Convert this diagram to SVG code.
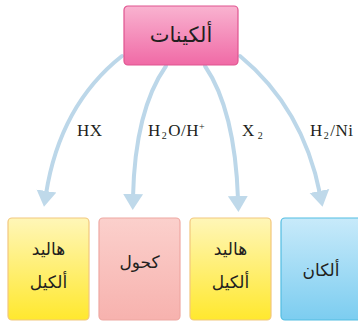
<svg xmlns="http://www.w3.org/2000/svg" width="358" height="326" viewBox="0 0 358 326">
  <defs>
    <linearGradient id="gPink" x1="0" y1="0" x2="0" y2="1">
      <stop offset="0" stop-color="#f9b3d0"/>
      <stop offset="1" stop-color="#f06aa6"/>
    </linearGradient>
    <linearGradient id="gYellow" x1="0" y1="0" x2="0" y2="1">
      <stop offset="0" stop-color="#fff6b8"/>
      <stop offset="1" stop-color="#ffe82e"/>
    </linearGradient>
    <linearGradient id="gRose" x1="0" y1="0" x2="0" y2="1">
      <stop offset="0" stop-color="#fbd0cc"/>
      <stop offset="1" stop-color="#f7b2ae"/>
    </linearGradient>
    <linearGradient id="gBlue" x1="0" y1="0" x2="0" y2="1">
      <stop offset="0" stop-color="#c8eafa"/>
      <stop offset="1" stop-color="#7ccdf0"/>
    </linearGradient>
    <marker id="head" markerUnits="userSpaceOnUse" markerWidth="22" markerHeight="22" refX="3" refY="11" orient="auto">
      <path d="M0 1 L16 11 L0 21 Z" fill="#bfd9ea"/>
    </marker>
    <style>
      .ar { font-family: "Noto Sans", "DejaVu Sans", sans-serif; fill: #231f20; text-anchor: middle; direction: rtl; }
      .lbl { font-family: "Liberation Serif", "Times New Roman", serif; font-size: 17px; fill: #231f20; letter-spacing: 0.5px; }
      .sub { font-size: 10px; }
      .conn { fill: none; stroke: #bcd7e9; stroke-width: 4; stroke-linecap: round; marker-end: url(#head); }
    </style>
  </defs>

  <g id="connectors">
    <path class="conn" d="M122 56 Q60 105 46 194"/>
    <path class="conn" d="M166 66 Q135 110 133 197"/>
    <path class="conn" d="M205 66 Q235 110 238 199"/>
    <path class="conn" d="M240 56 Q303 108 320 194"/>
  </g>

  <g id="labels">
    <text class="lbl" x="77" y="136">HX</text>
    <text class="lbl" x="148" y="136">H<tspan class="sub" dx="1" dy="3">2</tspan><tspan dx="1" dy="-3">O/H</tspan><tspan class="sub" dy="-6">+</tspan></text>
    <text class="lbl" x="242" y="136">X<tspan class="sub" dx="3" dy="3">2</tspan></text>
    <text class="lbl" x="310" y="136">H<tspan class="sub" dx="1" dy="3">2</tspan><tspan dx="1" dy="-3">/Ni</tspan></text>
  </g>

  <g id="alkenes">
    <rect x="124" y="6" width="114" height="59" rx="4" fill="url(#gPink)" stroke="#e0548f" stroke-width="1.2"/>
    <text class="ar" x="181" y="42" font-size="21">ألكينات</text>
  </g>

  <g id="alkyl-halide-1">
    <rect x="8" y="218" width="81" height="102" rx="4" fill="url(#gYellow)" stroke="#f2c77e" stroke-width="1.2"/>
    <text class="ar" x="48.5" y="255" font-size="17">هاليد</text>
    <text class="ar" x="48.5" y="288" font-size="17">ألكيل</text>
  </g>

  <g id="alcohol">
    <rect x="99" y="218" width="81" height="102" rx="4" fill="url(#gRose)" stroke="#eea8a2" stroke-width="1.2"/>
    <text class="ar" x="139.5" y="268" font-size="17">كحول</text>
  </g>

  <g id="alkyl-halide-2">
    <rect x="190" y="218" width="81" height="102" rx="4" fill="url(#gYellow)" stroke="#f2c77e" stroke-width="1.2"/>
    <text class="ar" x="230.5" y="255" font-size="17">هاليد</text>
    <text class="ar" x="230.5" y="288" font-size="17">ألكيل</text>
  </g>

  <g id="alkane">
    <rect x="281" y="218" width="84" height="102" rx="4" fill="url(#gBlue)" stroke="#52bde2" stroke-width="1.2"/>
    <text class="ar" x="321" y="276" font-size="17">ألكان</text>
  </g>
</svg>
